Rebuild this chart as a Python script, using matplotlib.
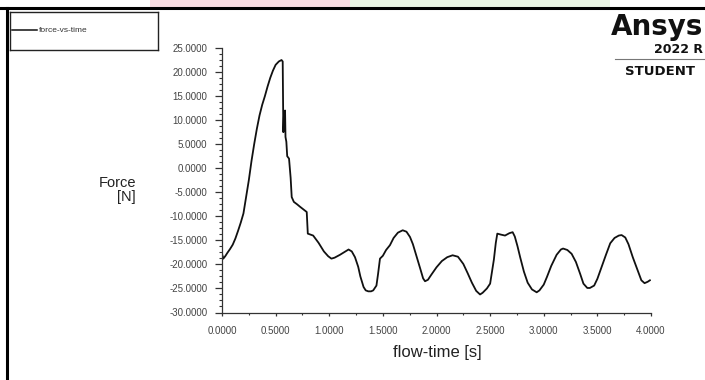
import matplotlib
matplotlib.use("Agg")
import matplotlib.pyplot as plt
from matplotlib.lines import Line2D
from matplotlib.patches import Rectangle
from matplotlib.ticker import MultipleLocator, FormatStrFormatter

plt.rcParams['font.family'] = ['Liberation Sans', 'DejaVu Sans']

# flow-time [s] and force [N]
flow_time = [0.0, 0.012, 0.03, 0.05, 0.075, 0.1, 0.125, 0.15, 0.175, 0.2, 0.225,
             0.25, 0.275, 0.3, 0.325, 0.35, 0.375, 0.4, 0.425, 0.45, 0.475, 0.5,
             0.53, 0.555, 0.566, 0.572, 0.578, 0.582, 0.588, 0.592, 0.6, 0.608,
             0.625, 0.64, 0.65, 0.67, 0.7, 0.727, 0.79, 0.8, 0.85, 0.9, 0.95,
             0.99, 1.02, 1.05, 1.1, 1.15, 1.18, 1.21, 1.24, 1.27, 1.29, 1.32,
             1.34, 1.364, 1.39, 1.41, 1.44, 1.455, 1.473, 1.5, 1.53, 1.566, 1.6,
             1.64, 1.685, 1.72, 1.753, 1.78, 1.81, 1.85, 1.875, 1.893, 1.92, 1.95,
             2.0, 2.05, 2.1, 2.15, 2.2, 2.25, 2.29, 2.33, 2.37, 2.406, 2.43, 2.47,
             2.5, 2.535, 2.553, 2.567, 2.6, 2.639, 2.68, 2.71, 2.73, 2.755, 2.78,
             2.815, 2.85, 2.89, 2.934, 2.96, 3.0, 3.03, 3.07, 3.12, 3.16, 3.18,
             3.22, 3.26, 3.3, 3.34, 3.37, 3.406, 3.43, 3.47, 3.5, 3.54, 3.58,
             3.62, 3.66, 3.7, 3.726, 3.76, 3.79, 3.83, 3.88, 3.91, 3.94, 3.97, 3.99]
force = [-17.8, -18.8, -18.3, -17.6, -16.8, -15.9, -14.6, -13.0, -11.3, -9.4, -6.0,
         -2.5, 1.5, 5.0, 8.2, 11.0, 13.2, 15.0, 17.0, 18.8, 20.3, 21.5,
         22.2, 22.5, 22.2, 7.5, 11.5, 8.0, 12.0, 6.5, 5.5, 2.5,
         2.0, -2.0, -6.0, -7.0, -7.5, -8.0, -9.1, -13.6, -14.0, -15.5, -17.3,
         -18.3, -18.8, -18.6, -18.0, -17.3, -16.9, -17.3, -18.5, -20.5, -22.5, -24.7,
         -25.4, -25.6, -25.6, -25.4, -24.4, -22.0, -18.8, -18.2, -17.0, -16.0, -14.5,
         -13.4, -12.9, -13.2, -14.3, -15.8, -18.0, -21.0, -22.9, -23.5, -23.2, -22.2,
         -20.6, -19.3, -18.5, -18.1, -18.4, -19.9, -21.8, -23.8, -25.5, -26.25, -25.9, -25.0,
         -24.0, -19.0, -15.5, -13.6, -13.8, -14.0, -13.5, -13.3, -14.2, -16.2, -18.5,
         -21.5, -23.8, -25.2, -25.8, -25.4, -24.2, -22.6, -20.3, -18.0, -16.9, -16.7,
         -17.0, -17.8, -19.5, -22.0, -24.0, -24.9, -24.9, -24.4, -23.0, -20.5, -18.0,
         -15.6, -14.5, -14.0, -13.9, -14.4, -15.8, -18.5, -21.5, -23.3, -23.9, -23.6, -23.3]

W, H = 705, 380
fig = plt.figure(figsize=(W / 100, H / 100), dpi=100)

def fx(px):
    return px / W

def fy(py):
    return 1 - py / H

# faint watermark strip and screenshot frame
fig.add_artist(Rectangle((fx(150), fy(7)), fx(200), 7 / H, color='#f9dde2', lw=0))
fig.add_artist(Rectangle((fx(350), fy(7)), fx(260), 7 / H, color='#e9f5e4', lw=0))
fig.add_artist(Line2D([0, 1], [fy(8), fy(8)], color='black', lw=2.2))
fig.add_artist(Line2D([fx(6.5), fx(6.5)], [0, fy(8)], color='black', lw=2.2))

ax = fig.add_axes([fx(222), fy(312.5), fx(651 - 222), (312.5 - 48) / H])
ax.plot(flow_time, force, color='#111111', lw=1.3)
ax.set_xlim(0, 4)
ax.set_ylim(-30, 25)
for s in ['top', 'right']:
    ax.spines[s].set_visible(False)
for s in ['left', 'bottom']:
    ax.spines[s].set_color('#333333')
    ax.spines[s].set_linewidth(0.9)

ax.xaxis.set_major_locator(MultipleLocator(0.5))
ax.xaxis.set_minor_locator(MultipleLocator(0.25))
ax.yaxis.set_major_locator(MultipleLocator(5))
ax.yaxis.set_minor_locator(MultipleLocator(1.25))
ax.xaxis.set_major_formatter(FormatStrFormatter('%.4f'))
ax.yaxis.set_major_formatter(FormatStrFormatter('%.4f'))
ax.tick_params(axis='y', which='major', length=5, width=0.9, color='#333333',
               labelsize=7, labelcolor='#444444', pad=5.5)
ax.tick_params(axis='y', which='minor', length=2.5, width=0.8, color='#333333')
ax.tick_params(axis='x', which='major', length=2.5, width=0.9, color='#333333',
               labelsize=7, labelcolor='#444444', pad=7)
ax.tick_params(axis='x', which='minor', length=1.5, width=0.8, color='#333333')

fig.text(fx(437), fy(352), 'flow-time [s]', fontsize=12, color='#222222',
         ha='center', va='center')
fig.text(fx(136), fy(189.5), 'Force\n[N]', fontsize=10.5, color='#222222',
         ha='right', va='center', multialignment='right', linespacing=1.0)

# legend box
lg = fig.add_axes([fx(10), fy(50), fx(148), 38 / H])
lg.set_xlim(0, 148)
lg.set_ylim(0, 38)
lg.set_xticks([])
lg.set_yticks([])
for s in lg.spines.values():
    s.set_color('#222222')
    s.set_linewidth(1.0)
lg.plot([2, 27], [20, 20], color='#111111', lw=1.1)
lg.text(29, 20, 'force-vs-time', fontsize=6, color='#333333', va='center', ha='left')

# Ansys student logo
fig.text(fx(703), fy(35), 'Ansys', fontsize=20, fontweight='bold', family='DejaVu Sans',
         color='#111111', ha='right', va='baseline')
fig.text(fx(703), fy(53), '2022 R', fontsize=9, fontweight='bold', family='DejaVu Sans',
         color='#111111', ha='right', va='baseline')
fig.add_artist(Line2D([fx(615), 1], [fy(59), fy(59)], color='#777777', lw=0.8))
fig.text(fx(625), fy(75), 'STUDENT', fontsize=9.5, fontweight='bold', family='DejaVu Sans',
         color='#111111', ha='left', va='baseline')

fig.savefig('out.png', dpi=100)
